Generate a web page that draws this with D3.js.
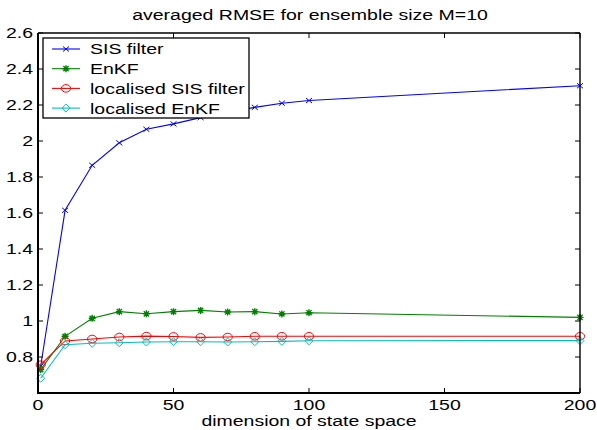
<!DOCTYPE html>
<html>
<head>
<meta charset="utf-8">
<script src="https://cdn.jsdelivr.net/npm/d3@7"></script>
<style>
  html, body { margin: 0; padding: 0; background: #fff; }
  svg { display: block; }
  text { font-family: "Liberation Sans", Arial, Helvetica, sans-serif; fill: #000; }
</style>
</head>
<body>
<svg id="chart" width="597" height="430"></svg>
<script>
// State-space dimensions used in the experiment
const dims = [1, 10, 20, 30, 40, 50, 60, 70, 80, 90, 100, 200];

// Averaged RMSE per filter
const sisFilter = [0.75, 1.615, 1.865, 1.99, 2.065, 2.095, 2.13, 2.16, 2.187, 2.21, 2.225, 2.307];
const enkf = [0.73, 0.915, 1.015, 1.052, 1.04, 1.052, 1.059, 1.05, 1.052, 1.039, 1.046, 1.02];
const localSisFilter = [0.757, 0.889, 0.90, 0.911, 0.916, 0.914, 0.909, 0.911, 0.915, 0.915, 0.915, 0.915];
const localEnkf = [0.682, 0.868, 0.876, 0.879, 0.883, 0.885, 0.885, 0.883, 0.885, 0.887, 0.89, 0.891];

const seriesNames = ["SIS filter", "EnKF", "localised SIS filter", "localised EnKF"];
const seriesColors = ["#0000ff", "#008000", "#ff0000", "#00bfbf"];
const seriesMarkers = ["cross", "star", "circle", "diamond"];

const xTicks = [0, 50, 100, 150, 200];
const yTicks = [0.8, 1, 1.2, 1.4, 1.6, 1.8, 2, 2.2, 2.4, 2.6];

const titleText = "averaged RMSE for ensemble size M=10";
const xLabelText = "dimension of state space";

// ---- layout ----
const W = 597, H = 430;
const margin = { left: 38, right: 17, top: 33, bottom: 37 };
const stretch = 1.3;      // glyphs are drawn horizontally widened
const fontSize = 15;

const svg = d3.select("#chart");

const x = d3.scaleLinear().domain([0, 200]).range([margin.left, W - margin.right]);
const y = d3.scaleLinear().domain([0.6, 2.6]).range([H - margin.bottom, margin.top]);

// helper: widened text anchored at (px, py)
function label(parent, px, py, str, anchor, dy, size, sx) {
  const g = parent.append("g").attr("transform", `translate(${px},${py}) scale(${sx || stretch},1)`);
  g.append("text")
    .attr("text-anchor", anchor || "start")
    .attr("dy", dy || 0)
    .style("font-size", (size || fontSize) + "px")
    .text(str);
  return g;
}

// ---- axes box and ticks ----
const x0 = x.range()[0], x1 = x.range()[1];
const y0 = y.range()[0], y1 = y.range()[1];
const tickLen = 5;

const axes = svg.append("g");
// ticks (inward, mirrored)
xTicks.forEach(t => {
  axes.append("line").attr("x1", x(t)).attr("x2", x(t)).attr("y1", y0).attr("y2", y0 - tickLen)
    .attr("stroke", "#000").attr("stroke-width", 1);
  axes.append("line").attr("x1", x(t)).attr("x2", x(t)).attr("y1", y1).attr("y2", y1 + tickLen)
    .attr("stroke", "#000").attr("stroke-width", 1);
});
yTicks.forEach(t => {
  axes.append("line").attr("x1", x0).attr("x2", x0 + tickLen).attr("y1", y(t)).attr("y2", y(t))
    .attr("stroke", "#000").attr("stroke-width", 1);
  axes.append("line").attr("x1", x1).attr("x2", x1 - tickLen).attr("y1", y(t)).attr("y2", y(t))
    .attr("stroke", "#000").attr("stroke-width", 1);
});

// ---- series ----
const allSeries = [sisFilter, enkf, localSisFilter, localEnkf];

function drawMarker(g, kind, cx, cy, color) {
  const m = g.append("g").attr("transform", `translate(${cx},${cy})`)
    .attr("stroke", color).attr("fill", "none").attr("stroke-width", 1);
  if (kind === "cross") {
    m.append("path").attr("d", "M-3,-2.5L3,2.5M-3,2.5L3,-2.5");
  } else if (kind === "star") {
    m.append("path").attr("d", "M-3.5,0L3.5,0M0,-3.5L0,3.5M-2.6,-2.6L2.6,2.6M-2.6,2.6L2.6,-2.6")
      .attr("stroke-width", 1.4);
  } else if (kind === "circle") {
    m.append("ellipse").attr("rx", 4.6).attr("ry", 3.8);
  } else if (kind === "diamond") {
    m.append("path").attr("d", "M0,-4L4,0L0,4L-4,0Z");
  }
}

const line = d3.line().x((d, i) => x(dims[i])).y(d => y(d));

const plot = svg.append("g");
allSeries.forEach((vals, k) => {
  plot.append("path")
    .datum(vals)
    .attr("d", line)
    .attr("fill", "none")
    .attr("stroke", seriesColors[k])
    .attr("stroke-width", 1.1);
  vals.forEach((v, i) => drawMarker(plot, seriesMarkers[k], x(dims[i]), y(v), seriesColors[k]));
});

// axis frame on top of data
axes.raise();
svg.append("line").attr("x1", x0).attr("x2", x1).attr("y1", y1).attr("y2", y1).attr("stroke", "#000").attr("stroke-width", 1.4);
svg.append("line").attr("x1", x1).attr("x2", x1).attr("y1", y1).attr("y2", y0).attr("stroke", "#000").attr("stroke-width", 1.4);
svg.append("line").attr("x1", x0).attr("x2", x0).attr("y1", y1).attr("y2", y0 + 1).attr("stroke", "#000").attr("stroke-width", 2);
svg.append("line").attr("x1", x0 - 1).attr("x2", x1).attr("y1", y0).attr("y2", y0).attr("stroke", "#000").attr("stroke-width", 2);

// ---- tick labels ----
const labels = svg.append("g");
yTicks.forEach(t => label(labels, x0 - 5, y(t), d3.format("")(+t.toFixed(1)), "end", "0.36em"));
xTicks.forEach(t => label(labels, x(t), 410, String(t), "middle"));

// ---- title and axis label ----
label(svg, 310, 20, titleText, "middle");
label(svg, 309, 426, xLabelText, "middle", 0, 14, 1.39);

// ---- legend ----
const legend = svg.append("g");
const lgX = 43, lgY = 38, lgW = 206, lgH = 80;
legend.append("rect").attr("x", lgX).attr("y", lgY).attr("width", lgW).attr("height", lgH)
  .attr("fill", "#fff").attr("stroke", "#000").attr("stroke-width", 1.3);
seriesNames.forEach((name, k) => {
  const ly = 49 + k * 19.7;
  legend.append("line").attr("x1", 52).attr("x2", 80).attr("y1", ly).attr("y2", ly)
    .attr("stroke", seriesColors[k]).attr("stroke-width", 1.1);
  drawMarker(legend, seriesMarkers[k], 66, ly, seriesColors[k]);
  label(legend, 90, ly, name, "start", "0.36em");
});
</script>
</body>
</html>
